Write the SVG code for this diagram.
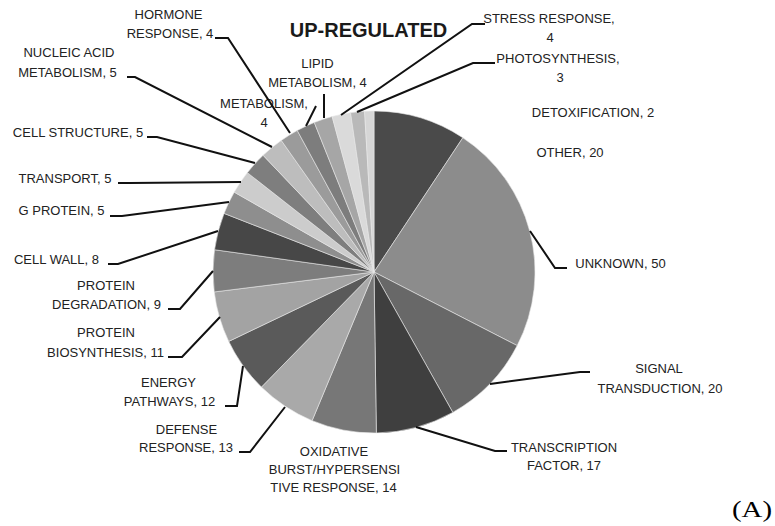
<svg xmlns="http://www.w3.org/2000/svg" width="775" height="526" viewBox="0 0 775 526">
<style>
.s{stroke:#e8e8e8;stroke-width:0.6}
.lb{font-family:"Liberation Sans",Arial,sans-serif;font-size:13px;fill:#222;text-anchor:middle}
.t{font-family:"Liberation Sans",Arial,sans-serif;font-size:20px;font-weight:bold;fill:#1a1a1a;text-anchor:middle}
.cap{font-family:"Liberation Serif","Times New Roman",serif;font-size:23px;fill:#000}
.ld{fill:none;stroke:#111;stroke-width:2;stroke-linejoin:miter}
</style>
<rect width="775" height="526" fill="#fff"/>
<text class="t" x="368.5" y="37">UP-REGULATED</text>
<g id="other"><path class="s" fill="#4a4a4a" d="M374,272 L374,111 A161,161 0 0 1 462.84,137.73 Z"/><text class="lb" x="570" y="157">OTHER, 20</text></g>
<g id="unknown"><path class="s" fill="#8c8c8c" d="M374,272 L462.84,137.73 A161,161 0 0 1 517.19,345.62 Z"/><text class="lb" x="620.5" y="268">UNKNOWN, 50</text></g>
<g id="signal"><path class="s" fill="#686868" d="M374,272 L517.19,345.62 A161,161 0 0 1 452.8,412.4 Z"/><text class="lb" x="659" y="373">SIGNAL</text><text class="lb" x="660" y="393">TRANSDUCTION, 20</text></g>
<g id="tf"><path class="s" fill="#3f3f3f" d="M374,272 L452.8,412.4 A161,161 0 0 1 376.35,432.98 Z"/><text class="lb" x="564" y="452">TRANSCRIPTION</text><text class="lb" x="564" y="470">FACTOR, 17</text></g>
<g id="oxidative"><path class="s" fill="#777777" d="M374,272 L376.35,432.98 A161,161 0 0 1 312.12,420.63 Z"/><text class="lb" x="334" y="456">OXIDATIVE</text><text class="lb" x="334.5" y="474">BURST/HYPERSENSI</text><text class="lb" x="333.5" y="492">TIVE RESPONSE, 14</text></g>
<g id="defense"><path class="s" fill="#a9a9a9" d="M374,272 L312.12,420.63 A161,161 0 0 1 261.4,387.08 Z"/><text class="lb" x="186.5" y="434">DEFENSE</text><text class="lb" x="186" y="452">RESPONSE, 13</text></g>
<g id="energy"><path class="s" fill="#5a5a5a" d="M374,272 L261.4,387.08 A161,161 0 0 1 228.73,341.4 Z"/><text class="lb" x="168.5" y="387">ENERGY</text><text class="lb" x="169.5" y="406">PATHWAYS, 12</text></g>
<g id="protein-biosynthesis"><path class="s" fill="#a3a3a3" d="M374,272 L228.73,341.4 A161,161 0 0 1 214.24,291.95 Z"/><text class="lb" x="106" y="337">PROTEIN</text><text class="lb" x="105.5" y="357">BIOSYNTHESIS, 11</text></g>
<g id="protein-degradation"><path class="s" fill="#7d7d7d" d="M374,272 L214.24,291.95 A161,161 0 0 1 214.55,249.72 Z"/><text class="lb" x="106" y="290">PROTEIN</text><text class="lb" x="106.5" y="309">DEGRADATION, 9</text></g>
<g id="cell-wall"><path class="s" fill="#474747" d="M374,272 L214.55,249.72 A161,161 0 0 1 224.05,213.39 Z"/><text class="lb" x="56.5" y="264">CELL WALL, 8</text></g>
<g id="g-protein"><path class="s" fill="#8e8e8e" d="M374,272 L224.05,213.39 A161,161 0 0 1 234.2,192.14 Z"/><text class="lb" x="61.5" y="215">G PROTEIN, 5</text></g>
<g id="transport"><path class="s" fill="#cccccc" d="M374,272 L234.2,192.14 A161,161 0 0 1 247.33,172.63 Z"/><text class="lb" x="65" y="183">TRANSPORT, 5</text></g>
<g id="cell-structure"><path class="s" fill="#7e7e7e" d="M374,272 L247.33,172.63 A161,161 0 0 1 263.08,155.3 Z"/><text class="lb" x="78" y="137">CELL STRUCTURE, 5</text></g>
<g id="nucleic-acid"><path class="s" fill="#bdbdbd" d="M374,272 L263.08,155.3 A161,161 0 0 1 281.29,140.38 Z"/><text class="lb" x="69" y="57">NUCLEIC ACID</text><text class="lb" x="67.5" y="77">METABOLISM, 5</text></g>
<g id="hormone"><path class="s" fill="#9b9b9b" d="M374,272 L281.29,140.38 A161,161 0 0 1 297.25,130.47 Z"/><text class="lb" x="168.5" y="19">HORMONE</text><text class="lb" x="170" y="38">RESPONSE, 4</text></g>
<g id="metabolism"><path class="s" fill="#7d7d7d" d="M374,272 L297.25,130.47 A161,161 0 0 1 314.28,122.48 Z"/><text class="lb" x="264" y="108">METABOLISM,</text><text class="lb" x="264" y="127">4</text></g>
<g id="lipid"><path class="s" fill="#a6a6a6" d="M374,272 L314.28,122.48 A161,161 0 0 1 332.14,116.54 Z"/><text class="lb" x="317.5" y="68">LIPID</text><text class="lb" x="317.5" y="87">METABOLISM, 4</text></g>
<g id="stress"><path class="s" fill="#dadada" d="M374,272 L332.14,116.54 A161,161 0 0 1 350.56,112.72 Z"/><text class="lb" x="549" y="23">STRESS RESPONSE,</text><text class="lb" x="550" y="42">4</text></g>
<g id="photosynthesis"><path class="s" fill="#b9b9b9" d="M374,272 L350.56,112.72 A161,161 0 0 1 364.59,111.28 Z"/><text class="lb" x="558" y="63">PHOTOSYNTHESIS,</text><text class="lb" x="560" y="82">3</text></g>
<g id="detoxification"><path class="s" fill="#d6d6d6" d="M374,272 L364.59,111.28 A161,161 0 0 1 374,111 Z"/><text class="lb" x="593" y="117">DETOXIFICATION, 2</text></g>
<g id="connectors">
<polyline class="ld" points="215,38 228,38 290,133"/>
<polyline class="ld" points="127,77 135,77 272,147"/>
<polyline class="ld" points="147,137 157,137 255,163"/>
<polyline class="ld" points="118,183 130,183 241,182"/>
<polyline class="ld" points="110,216 122,216 229,202"/>
<polyline class="ld" points="108,264 118,264 218,231"/>
<polyline class="ld" points="168,309 180,309 213,271"/>
<polyline class="ld" points="168,357 182,357 220,317"/>
<polyline class="ld" points="225,406 237,406 243,366"/>
<polyline class="ld" points="239,452 250,452 285,407"/>
<polyline class="ld" points="507,451 495,451 416,427"/>
<polyline class="ld" points="567,268 555,268 530,231"/>
<polyline class="ld" points="590,372 580,372 490,384"/>
<polyline class="ld" points="485,24 472,24 341,115"/>
<polyline class="ld" points="495,63 473,63 357,112"/>
<polyline class="ld" points="324,94 324,118"/>
<polyline class="ld" points="316,106 306,126"/>
</g>
<text class="cap" x="732" y="517" textLength="40" lengthAdjust="spacingAndGlyphs">(A)</text>
</svg>
